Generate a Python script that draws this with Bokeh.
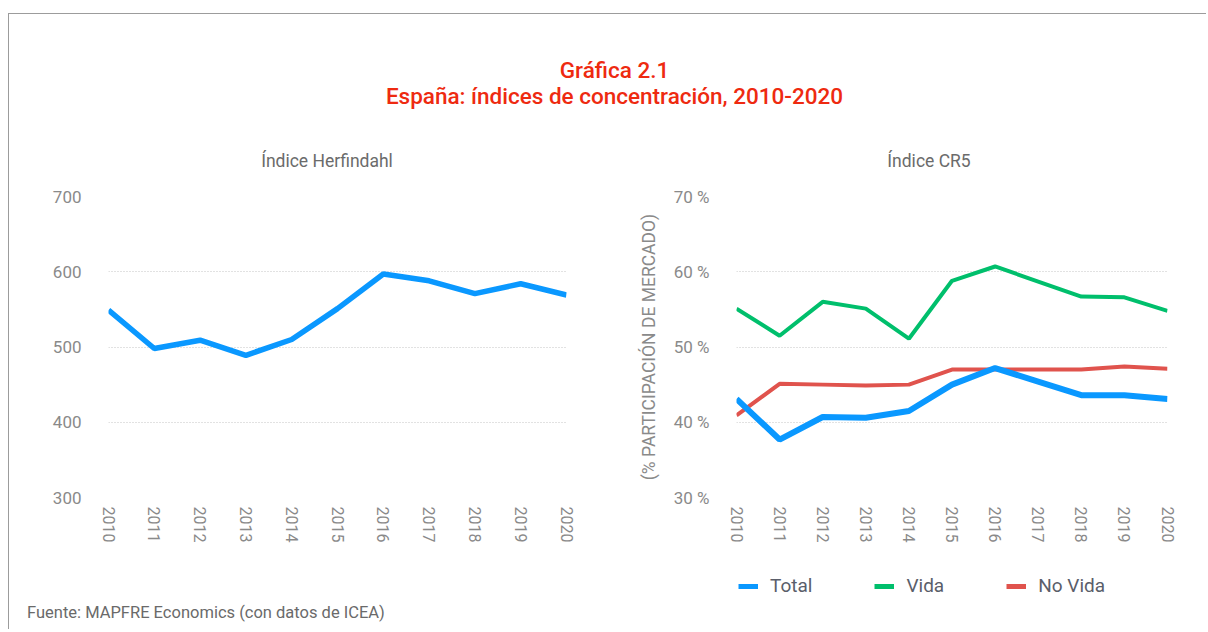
from bokeh.plotting import figure
from bokeh.models import Range1d, FixedTicker, PrintfTickFormatter, Legend, LegendItem, Div, Spacer
from bokeh.layouts import column, row
from bokeh.embed import file_html
from bokeh.resources import INLINE

# ---- data ----
years = [2010, 2011, 2012, 2013, 2014, 2015, 2016, 2017, 2018, 2019, 2020]
herfindahl = [549, 498, 509, 489, 510, 551, 597, 588, 571, 584, 569]
cr5_total = [43.1, 37.7, 40.7, 40.6, 41.5, 45.0, 47.2, 45.4, 43.6, 43.6, 43.1]
cr5_vida = [55.1, 51.5, 56.0, 55.1, 51.1, 58.8, 60.7, 58.7, 56.7, 56.6, 54.8]
cr5_no_vida = [40.9, 45.1, 45.0, 44.9, 45.0, 47.0, 47.0, 47.0, 47.0, 47.4, 47.1]
herf_ticks = [300, 400, 500, 600, 700]
cr5_ticks = [30, 40, 50, 60, 70]

main_title_1 = "Gráfica 2.1"
main_title_2 = "España: índices de concentración, 2010-2020"
sub_left = "Índice Herfindahl"
sub_right = "Índice CR5"
y_label_right = "(% PARTICIPACIÓN DE MERCADO)"
source_text = "Fuente: MAPFRE Economics (con datos de ICEA)"
series_names = ["Total", "Vida", "No Vida"]

BLUE = "#0A98FF"
GREEN = "#00BF6C"
RED = "#E0534D"
FONT = "Roboto"
TICK_COLOR = "#8a8a8a"


def style(p):
    p.outline_line_color = None
    p.background_fill_color = "white"
    p.border_fill_color = "white"
    p.xgrid.grid_line_color = None
    p.ygrid.grid_line_color = "#c4c4c4"
    p.ygrid.grid_line_dash = "1 2"
    p.ygrid.grid_line_width = 1
    for ax in (p.xaxis[0], p.yaxis[0]):
        ax.axis_line_color = None
        ax.major_tick_line_color = None
        ax.minor_tick_line_color = None
        ax.major_tick_out = 0
        ax.major_tick_in = 0
        ax.minor_tick_out = 0
        ax.minor_tick_in = 0
        ax.major_label_text_font = FONT
        ax.major_label_text_color = TICK_COLOR
    p.xaxis.ticker = FixedTicker(ticks=years)
    p.xaxis.major_label_orientation = "vertical"
    p.xaxis.major_label_text_font_size = "16px"
    p.xaxis.major_label_standoff = 9
    p.yaxis.major_label_text_font_size = "17px"
    p.yaxis.major_label_standoff = 27


TOP = 21
FRAME_H = 303
BOTTOM = 46
H = TOP + FRAME_H + BOTTOM

left = figure(width=626, height=H, x_range=Range1d(2010, 2020), y_range=Range1d(300, 700),
              output_backend="svg", toolbar_location=None,
              min_border_left=99, min_border_right=69, min_border_top=TOP, min_border_bottom=BOTTOM)
style(left)
left.yaxis.ticker = FixedTicker(ticks=herf_ticks)
left.line(years, herfindahl, line_color=BLUE, line_width=5.5)

right = figure(width=562, height=H, x_range=Range1d(2010, 2020), y_range=Range1d(30, 70),
               output_backend="svg", toolbar_location=None,
               min_border_left=101, min_border_right=30, min_border_top=TOP, min_border_bottom=BOTTOM)
style(right)
right.yaxis.ticker = FixedTicker(ticks=cr5_ticks)
right.yaxis.formatter = PrintfTickFormatter(format="%d %%")
right.yaxis.axis_label = y_label_right
right.yaxis.axis_label_text_font = FONT
right.yaxis.axis_label_text_font_style = "normal"
right.yaxis.axis_label_text_font_size = "17.5px"
right.yaxis.axis_label_text_color = TICK_COLOR
right.yaxis.axis_label_standoff = 12

right.line(years, cr5_vida, line_color=GREEN, line_width=4)
right.line(years, cr5_no_vida, line_color=RED, line_width=4)
right.line(years, cr5_total, line_color=BLUE, line_width=6)

# legend strip under the right chart (its lines fall outside its own ranges)
leg_fig = figure(width=440, height=52, x_range=Range1d(0, 1), y_range=Range1d(0, 1),
                 x_axis_location=None, y_axis_location=None, output_backend="svg",
                 toolbar_location=None, min_border=0)
leg_fig.outline_line_color = None
leg_fig.xgrid.visible = False
leg_fig.ygrid.visible = False
l_total = leg_fig.line(years, cr5_total, line_color=BLUE, line_width=5)
l_vida = leg_fig.line(years, cr5_vida, line_color=GREEN, line_width=5)
l_novida = leg_fig.line(years, cr5_no_vida, line_color=RED, line_width=5)
legend = Legend(items=[LegendItem(label=series_names[0], renderers=[l_total]),
                       LegendItem(label=series_names[1], renderers=[l_vida]),
                       LegendItem(label=series_names[2], renderers=[l_novida])],
                orientation="horizontal", location=(2, 0),
                glyph_width=20, glyph_height=22, label_height=22, label_standoff=12, spacing=62,
                padding=0, margin=0, border_line_color=None, background_fill_alpha=0,
                label_text_font=FONT, label_text_font_size="19px", label_text_color="#5a5e6a")
leg_fig.add_layout(legend, "center")

title_div = Div(
    text=(
        '<div style="position:relative;width:1187px;height:151px;font-family:Roboto;">'
        '<div style="position:absolute;left:0;top:38px;width:1187px;box-sizing:border-box;'
        'padding-left:14px;text-align:center;font-weight:500;font-size:22.5px;line-height:26px;'
        f'color:#EE2A10;white-space:nowrap;">{main_title_1}<br>{main_title_2}</div>'
        '<div style="position:absolute;left:213px;top:132px;width:200px;text-align:center;'
        f'font-size:17.5px;line-height:20px;color:#6b6b6b;">{sub_left}</div>'
        '<div style="position:absolute;left:815px;top:132px;width:200px;text-align:center;'
        f'font-size:17.5px;line-height:20px;color:#6b6b6b;">{sub_right}</div>'
        '</div>'),
    width=1187, height=151)

source_div = Div(
    text=(f'<div style="padding-left:13px;font-family:Roboto;font-size:16.5px;line-height:22px;'
          f'color:#6a6a6a;white-space:nowrap;">{source_text}</div>'),
    width=600, height=22)

layout = column(title_div,
                row(left, right, spacing=0),
                row(Spacer(width=727, height=52), leg_fig, spacing=0),
                source_div, spacing=0,
                styles={"border-left": "1px solid #9c9c9c", "border-top": "1px solid #9c9c9c",
                        "margin-top": "13px", "margin-left": "8px"})

open("out.html", "w").write(file_html(layout, INLINE))
